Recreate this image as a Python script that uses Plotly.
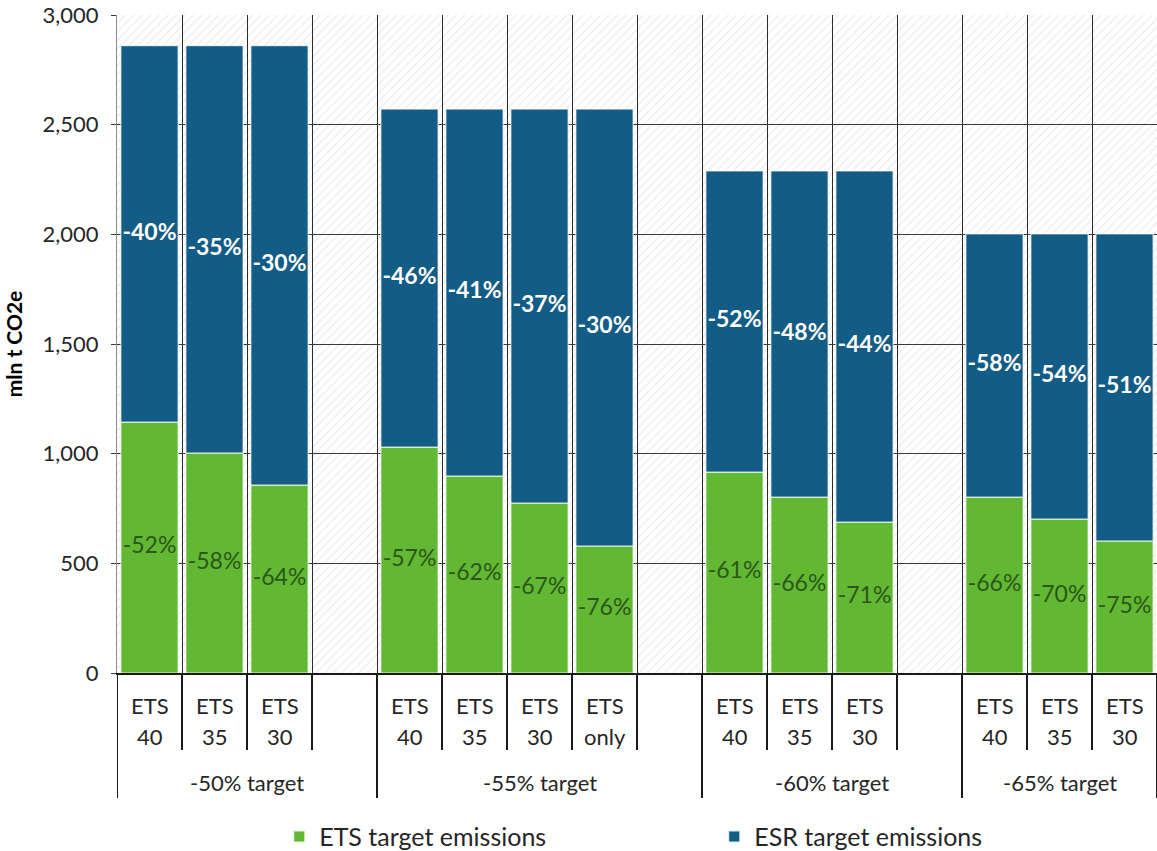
import plotly.graph_objects as go

# ---- data ----
slot_top = ["ETS", "ETS", "ETS", "", "ETS", "ETS", "ETS", "ETS", "", "ETS", "ETS", "ETS", "", "ETS", "ETS", "ETS"]
slot_bottom = ["40", "35", "30", "", "40", "35", "30", "only", "", "40", "35", "30", "", "40", "35", "30"]
groups = ["-50% target", "-55% target", "-60% target", "-65% target"]
group_sizes = [4, 5, 4, 3]  # slots per group (including spacer slots)

ets_values = [1144, 1003, 857, None, 1030, 898, 775, 579, None, 916, 802, 688, None, 802, 702, 602]
esr_values = [1716, 1857, 2003, None, 1541, 1673, 1796, 1992, None, 1373, 1487, 1601, None, 1200, 1300, 1400]
ets_labels = ["-52%", "-58%", "-64%", "", "-57%", "-62%", "-67%", "-76%", "", "-61%", "-66%", "-71%", "", "-66%", "-70%", "-75%"]
esr_labels = ["-40%", "-35%", "-30%", "", "-46%", "-41%", "-37%", "-30%", "", "-52%", "-48%", "-44%", "", "-58%", "-54%", "-51%"]
y_max = 3000

FONT = "Lato, 'Open Sans', sans-serif"
GREEN = "#62b832"
BLUE = "#135c85"
TXT = "#262626"

n = len(slot_top)
xs = list(range(n))

fig = go.Figure()

# hatched background
fig.add_trace(go.Bar(
    x=xs, y=[y_max] * n, width=1, showlegend=False, hoverinfo="skip",
    marker=dict(color="rgba(0,0,0,0)", line=dict(width=0),
                pattern=dict(shape="/", fgcolor="rgba(0,0,0,0.15)", bgcolor="rgba(0,0,0,0)",
                             size=6, solidity=0.2)),
))

fig.add_trace(go.Bar(
    x=xs, y=ets_values, width=0.88, name="ETS target emissions",
    marker=dict(color=GREEN, line=dict(color="rgba(255,255,255,0.85)", width=1)),
))
fig.add_trace(go.Bar(
    x=xs, y=esr_values, base=[e if e is not None else 0 for e in ets_values], width=0.88,
    name="ESR target emissions",
    marker=dict(color=BLUE, line=dict(color="rgba(255,255,255,0.85)", width=1)),
))

# data labels
ets_mid = [e / 2 if e is not None else None for e in ets_values]
esr_mid = [(e + s / 2) if (e is not None and s is not None) else None for e, s in zip(ets_values, esr_values)]
fig.add_trace(go.Scatter(
    x=xs, y=ets_mid, mode="text", text=ets_labels, showlegend=False, hoverinfo="skip",
    textfont=dict(family=FONT, size=23, color="#2c561a"), textposition="middle center",
))
fig.add_trace(go.Scatter(
    x=xs, y=esr_mid, mode="text", text=esr_labels, showlegend=False, hoverinfo="skip",
    textfont=dict(family=FONT, size=23, color="white", weight="bold"), textposition="middle center",
))

# table below the axis
ann = []
shapes = []
for i in xs:
    if slot_top[i]:
        ann.append(dict(x=i, y=-0.050, xref="x", yref="paper", text=slot_top[i], showarrow=False,
                        font=dict(family=FONT, size=22, color=TXT), yanchor="middle"))
        ann.append(dict(x=i, y=-0.097, xref="x", yref="paper", text=slot_bottom[i], showarrow=False,
                        font=dict(family=FONT, size=22, color=TXT), yanchor="middle"))

start = 0
full_bounds = [-0.5]
for g, size in zip(groups, group_sizes):
    end = start + size - 1
    ann.append(dict(x=(start + end) / 2, y=-0.166, xref="x", yref="paper", text=g, showarrow=False,
                    font=dict(family=FONT, size=22, color=TXT), yanchor="middle"))
    full_bounds.append(end + 0.5)
    start = end + 1

short_bounds = [i + 0.5 for i in range(n - 1) if (i + 0.5) not in full_bounds]
for b in full_bounds:
    shapes.append(dict(type="line", xref="x", yref="paper", x0=b, x1=b, y0=0, y1=-0.19,
                       line=dict(color="#1a1a1a", width=2)))
for b in short_bounds:
    shapes.append(dict(type="line", xref="x", yref="paper", x0=b, x1=b, y0=0, y1=-0.117,
                       line=dict(color="#1a1a1a", width=2)))

fig.update_layout(
    width=1157, height=851,
    margin=dict(l=117, r=0, t=15, b=178, autoexpand=False),
    barmode="overlay",
    plot_bgcolor="white", paper_bgcolor="white",
    font=dict(family=FONT, color=TXT),
    xaxis=dict(range=[-0.5, n - 0.5], tickvals=[i + 0.5 for i in range(n - 1)], showticklabels=False,
               showgrid=True, gridcolor="#2b2b2b", gridwidth=1, ticks="", zeroline=False,
               showline=True, linecolor="#1a1a1a", linewidth=2),
    yaxis=dict(range=[0, y_max], dtick=500, tickformat=",", showgrid=True, gridcolor="#3a3a3a",
               gridwidth=1, zeroline=False, showline=True, linecolor="#8a8a8a", linewidth=1,
               ticks="outside", ticklen=5, tickcolor="#3a3a3a", ticklabelstandoff=8,
               tickfont=dict(family=FONT, size=22, color=TXT),
               title=dict(text="<b>mln t CO2e</b>", font=dict(family=FONT, size=21, color="#000"), standoff=14)),
    legend=dict(orientation="h", x=0.156, y=-0.249, xanchor="left", yanchor="middle",
                entrywidth=390, entrywidthmode="pixels",
                font=dict(family=FONT, size=25, color=TXT), itemsizing="constant"),
    annotations=ann, shapes=shapes,
    showlegend=True,
)

fig.write_html("out.html")
